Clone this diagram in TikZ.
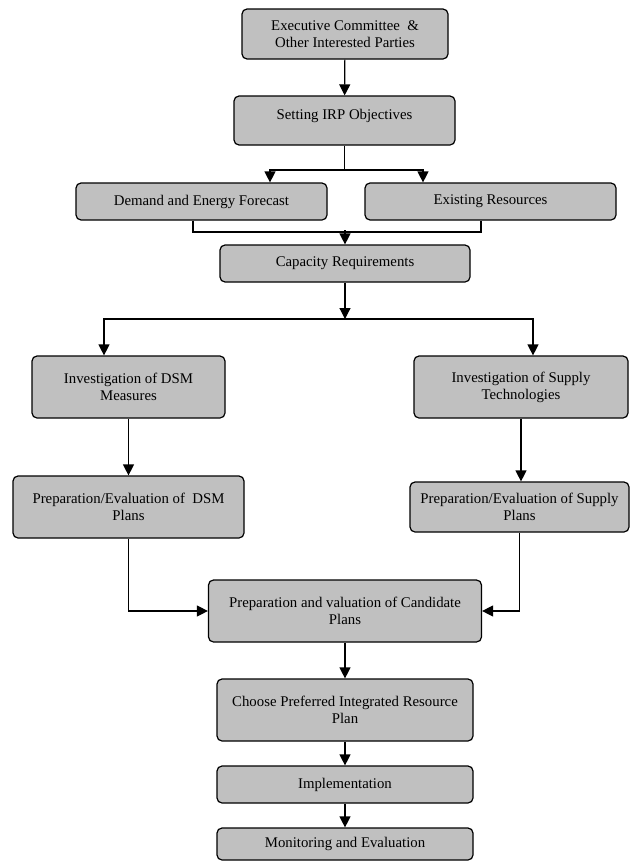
\documentclass[tikz,border=0pt]{standalone}
\usepackage{fontspec}
\setmainfont{Liberation Serif}
\usetikzlibrary{arrows.meta}
\definecolor{boxgray}{RGB}{192,192,192}
\begin{document}
\begin{tikzpicture}[x=1pt,y=-1pt,line width=1.2pt,>={Triangle[length=11pt,width=11pt]},
    stage/.style={draw,fill=boxgray,rounded corners=5pt,align=center,inner sep=1pt,
        font=\fontsize{14.8}{17}\selectfont}]
            \useasboundingbox (0,0) rectangle (630,862);
            \node[stage,minimum width=206pt,minimum height=50pt] at (345,34)(exec){Executive Committee \ \&\\Other Interested Parties};
            \node[stage,minimum width=221pt,minimum height=49pt,text depth=12pt] at (344.5,120.5)(irp){Setting IRP Objectives};
            \node[stage,minimum width=251pt,minimum height=37pt] at (201.5,201.5)(demand){Demand and Energy Forecast};
            \node[stage,minimum width=251pt,minimum height=37pt] at (490.5,201.5)(exist){Existing Resources};
            \node[stage,minimum width=250pt,minimum height=37pt] at (345,263.5)(cap){Capacity Requirements};
            \node[stage,minimum width=193pt,minimum height=62pt] at (128.5,387)(dsmInv){Investigation of DSM\\Measures};
            \node[stage,minimum width=214pt,minimum height=62pt] at (521,387)(supInv){Investigation of Supply\\Technologies};
            \node[stage,minimum width=231pt,minimum height=62pt] at (128.5,507)(dsmPlan){Preparation/Evaluation of \ DSM\\Plans};
            \node[stage,minimum width=219pt,minimum height=50pt] at (519.5,507)(supPlan){Preparation/Evaluation of Supply\\Plans};
            \node[stage,minimum width=273pt,minimum height=62pt] at (345,611)(cand){Preparation and valuation of Candidate\\Plans};
            \node[stage,minimum width=256pt,minimum height=62pt] at (345,710)(choose){Choose Preferred Integrated Resource\\Plan};
            \node[stage,minimum width=256pt,minimum height=37pt] at (345,784.5)(impl){Implementation};
            \node[stage,minimum width=256pt,minimum height=32pt] at (345,844)(mon){Monitoring and Evaluation};
            % split and join points
            \coordinate (fanL) at (270,170);
            \coordinate (fanR) at (423,170);
            \coordinate (brL) at (193,230);
            \coordinate (brR) at (481,230);
            \coordinate (fan2L) at (104,319);
            \coordinate (fan2R) at (533,319);
            \path[draw,->] (exec) -- (irp);
            \path[draw] (irp) -- (irp.south |- fanL);
            \path[draw,<->] (fanL |- demand.north) -- (fanL) -- (fanR) -- (fanR |- exist.north);
            \path[draw] (brL |- demand.south) -- ([yshift=-2pt]brL) -- ([yshift=-2pt]brR) -- (brR |- exist.south);
            %\path[draw] (brL) -- (brR);
            \path[draw,->] (cap.north |- brL) -- (cap);
            \path[draw,->] (cap) -- (cap.south |- fan2L);
            \path[draw,<->] (fan2L |- dsmInv.north) -- (fan2L) -- (fan2R) -- (fan2R |- supInv.north);
            \path[draw,->] (dsmInv) -- (dsmPlan);
            \path[draw,->] (supInv) -- (supInv |- supPlan.north);
            \path[draw,->] (dsmPlan) |- (cand);
            \path[draw,->] (supPlan) |- (cand);
            \path[draw,->] (cand) -- (choose);
            \path[draw,->] (choose) -- (impl);
            \path[draw,->] (impl) -- (mon);
        \end{tikzpicture}
\end{document}
